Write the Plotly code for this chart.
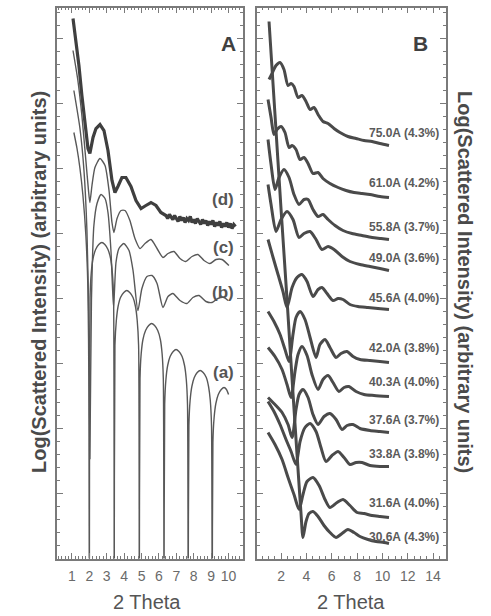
import plotly.graph_objects as go

FONT = "Liberation Sans, Arial, sans-serif"

# ---------------- Panel A (model curves a-d) ----------------
a_x = [1.11, 1.29, 1.46, 1.63, 1.80, 1.92, 1.97, 2.00,
       2.04, 2.11, 2.21, 2.36, 2.54, 2.72, 2.89, 3.07, 3.22, 3.32, 3.39, 3.43,
       3.47, 3.55, 3.65, 3.79, 3.98, 4.15, 4.32, 4.51, 4.65, 4.75, 4.83, 4.87,
       4.91, 4.98, 5.08, 5.23, 5.41, 5.58, 5.75, 5.93, 6.08, 6.18, 6.25, 6.29,
       6.33, 6.40, 6.50, 6.64, 6.82, 6.98, 7.15, 7.33, 7.47, 7.57, 7.64, 7.68,
       7.72, 7.79, 7.89, 8.03, 8.20, 8.37, 8.54, 8.72, 8.85, 8.95, 9.02, 9.06,
       9.10, 9.17, 9.27, 9.41, 9.58, 9.74, 9.88, 10.00]
a_y = [426, 410, 390, 363, 323, 268, 178, -60,
       261, 286, 300, 309, 314, 316, 314, 309, 300, 286, 261, -60,
       213, 238, 252, 261, 266, 268, 266, 261, 252, 238, 213, -60,
       180, 205, 219, 228, 233, 235, 233, 228, 219, 205, 180, -60,
       154, 179, 193, 202, 207, 209, 207, 202, 193, 179, 154, -60,
       133, 158, 172, 181, 186, 188, 186, 181, 172, 158, 133, -60,
       116, 141, 155, 164, 169, 171, 169, 164]

b_x = [1.11, 1.46, 1.69, 1.86, 1.98, 2.03, 2.12, 2.26, 2.44, 2.67, 2.90, 3.07,
       3.24, 3.39, 3.53, 3.70, 3.98, 4.28, 4.51, 4.79, 5.02, 5.31, 5.60, 5.89,
       6.23, 6.52, 6.80, 7.21, 7.61, 7.95, 8.30, 8.70, 9.05, 9.39, 9.74, 9.97]
b_y = [468, 430, 388, 328, 228, 100, 258, 333, 355, 364, 360, 346,
       308, 251, 296, 310, 315, 308, 288, 248, 270, 282, 283, 275,
       251, 262, 265, 258, 255, 261, 263, 257, 256, 260, 261, 258]

c_x = [1.06, 1.34, 1.57, 1.80, 1.95, 2.03, 2.15, 2.32, 2.61, 2.90, 3.13, 3.30,
       3.41, 3.59, 3.82, 4.05, 4.33, 4.62, 4.91, 5.20, 5.54, 5.89, 6.23, 6.52,
       6.86, 7.21, 7.55, 7.90, 8.24, 8.59, 8.93, 9.28, 9.62, 10.02]
c_y = [508, 478, 443, 398, 368, 356, 373, 391, 400, 393, 368, 336,
       326, 340, 348, 348, 338, 320, 310, 315, 319, 310, 301, 305,
       307, 300, 297, 302, 304, 298, 295, 299, 299, 293]

d_x = [1.06, 1.23, 1.40, 1.57, 1.75, 1.92, 2.03, 2.21, 2.38, 2.61, 2.84, 3.07,
       3.30, 3.47, 3.64, 3.87, 4.10, 4.39, 4.68, 4.97, 5.25, 5.54, 5.83, 6.11,
       6.4, 6.5, 6.6, 6.7, 6.8, 6.9, 7.0, 7.1, 7.2, 7.3, 7.4, 7.5, 7.6, 7.7,
       7.8, 7.9, 8.0, 8.1, 8.2, 8.3, 8.4, 8.5, 8.6, 8.7, 8.8, 8.9, 9.0, 9.1,
       9.2, 9.3, 9.4, 9.5, 9.6, 9.7, 9.8, 9.9, 10.0, 10.1, 10.2, 10.3, 10.4]
d_y = [540, 518, 493, 463, 433, 410, 405, 421, 430, 434, 428, 408,
       378, 366, 372, 381, 381, 372, 358, 350, 353, 356, 353, 346,
       343, 340, 344, 341, 339, 343, 340, 337, 342, 338, 341, 336, 340, 338,
       342, 336, 339, 335, 340, 337, 334, 339, 335, 338, 333, 337, 334, 338,
       332, 336, 333, 337, 331, 335, 332, 336, 331, 335, 330, 334, 332]

a_labels = ["(d)", "(c)", "(b)", "(a)"]
a_label_y = [359, 311, 266, 186]

# ---------------- Panel B (measured curves) ----------------
b_names = ["75.0A (4.3%)", "61.0A (4.2%)", "55.8A (3.7%)", "49.0A (3.6%)",
           "45.6A (4.0%)", "42.0A (3.8%)", "40.3A (4.0%)", "37.6A (3.7%)",
           "33.8A (3.8%)", "31.6A (4.0%)", "30.6A (4.3%)"]
b_label_y = [426, 376, 332, 301, 261, 211, 177, 139, 105, 56, 22]

s750_x = [1.05, 1.29, 1.60, 1.92, 2.23, 2.55, 2.79, 3.02, 3.34, 3.65, 3.97, 4.29,
          4.60, 4.92, 5.31, 5.71, 6.18, 6.65, 7.28, 7.92, 8.55, 9.18, 9.81, 10.52]
s750_y = [479, 485, 493, 496, 489, 473, 475, 472, 461, 463, 457, 449,
          451, 444, 437, 435, 430, 426, 422, 420, 418, 417, 415, 413]

s610_x = [0.97, 1.21, 1.44, 1.68, 2.00, 2.31, 2.63, 2.87, 3.18, 3.50, 3.81, 4.13,
          4.52, 4.92, 5.31, 5.86, 6.50, 7.13, 7.76, 8.39, 9.02, 9.81, 10.52]
s610_y = [459, 441, 424, 429, 432, 426, 411, 413, 409, 399, 401, 395,
          385, 386, 380, 375, 371, 368, 366, 365, 364, 362, 361]

s558_x = [0.97, 1.21, 1.52, 1.84, 2.23, 2.63, 3.02, 3.42, 3.81, 4.13, 4.52, 4.92,
          5.31, 5.71, 6.26, 6.89, 7.60, 8.39, 9.18, 9.89, 10.52]
s558_y = [419, 394, 369, 381, 389, 381, 364, 354, 359, 359, 349, 342,
          344, 339, 333, 328, 325, 323, 321, 320, 319]

s490_x = [0.97, 1.21, 1.60, 2.00, 2.47, 2.94, 3.42, 3.81, 4.29, 4.76, 5.23, 5.71,
          6.18, 6.81, 7.44, 8.23, 9.02, 9.81, 10.52]
s490_y = [374, 354, 327, 339, 347, 339, 321, 325, 327, 319, 309, 312,
          309, 302, 297, 294, 292, 290, 288]

s456_x = [0.97, 1.37, 1.76, 2.15, 2.47, 2.87, 3.26, 3.65, 4.05, 4.52, 4.92, 5.23,
          5.63, 6.10, 6.50, 6.89, 7.44, 8.07, 8.86, 9.65, 10.52]
s456_y = [319, 301, 284, 267, 251, 271, 281, 284, 277, 262, 269, 271,
          265, 258, 260, 259, 254, 252, 251, 250, 249]

s420_x = [0.97, 1.44, 1.92, 2.31, 2.63, 2.94, 3.18, 3.50, 3.89, 4.29, 4.76, 5.07,
          5.47, 5.86, 6.34, 6.73, 7.21, 7.68, 8.23, 9.02, 9.81, 10.52]
s420_y = [247, 237, 224, 209, 197, 224, 241, 247, 239, 221, 201, 214,
          219, 211, 201, 205, 207, 202, 199, 198, 197, 196]

s403_x = [0.97, 1.52, 2.08, 2.47, 2.79, 3.10, 3.34, 3.65, 4.05, 4.44, 4.92, 5.31,
          5.71, 6.10, 6.57, 6.97, 7.36, 7.92, 8.55, 9.34, 10.52]
s403_y = [211, 202, 189, 174, 161, 187, 204, 212, 203, 184, 169, 179,
          183, 176, 167, 171, 172, 167, 164, 163, 162]

s376_x = [0.97, 1.52, 2.08, 2.55, 2.87, 3.18, 3.42, 3.73, 4.13, 4.52, 4.92, 5.39,
          5.86, 6.34, 6.81, 7.21, 7.68, 8.23, 9.02, 9.81, 10.52]
s376_y = [161, 154, 146, 134, 121, 149, 164, 169, 161, 144, 134, 142,
          145, 139, 129, 133, 134, 130, 128, 127, 126]

s338_x = [0.97, 1.44, 1.92, 2.39, 2.79, 3.18, 3.50, 3.89, 4.29, 4.76, 5.15, 5.55,
          6.02, 6.50, 6.97, 7.44, 7.92, 8.39, 9.02, 9.81, 10.52]
s338_y = [157, 147, 134, 119, 107, 94, 117, 131, 135, 127, 111, 97,
          103, 107, 101, 94, 96, 96, 93, 92, 92]

s316_x = [0.97, 1.52, 2.08, 2.55, 3.02, 3.42, 3.73, 4.05, 4.52, 5.00, 5.47, 5.86,
          6.42, 6.89, 7.44, 8.00, 8.55, 9.18, 9.81, 10.52]
s316_y = [126, 114, 99, 81, 64, 49, 64, 77, 81, 73, 59, 51,
          56, 59, 53, 46, 45, 43, 42, 41]

s306_x = [1.05, 1.52, 2.00, 2.47, 2.87, 3.26, 3.58, 3.73, 3.97, 4.21, 4.52, 4.92,
          5.39, 5.86, 6.34, 6.81, 7.28, 7.76, 8.23, 8.86, 9.50, 10.13, 10.52]
s306_y = [537, 444, 349, 259, 179, 104, 44, 21, 37, 45, 47, 42,
          33, 26, 21, 25, 29, 26, 22, 19, 17, 16, 15]

b_series = [(s750_x, s750_y), (s610_x, s610_y), (s558_x, s558_y), (s490_x, s490_y),
            (s456_x, s456_y), (s420_x, s420_y), (s403_x, s403_y), (s376_x, s376_y),
            (s338_x, s338_y), (s316_x, s316_y), (s306_x, s306_y)]

# ---------------- Figure ----------------
fig = go.Figure()
thin = dict(color="#585858", width=1.4, shape="spline", smoothing=0.6)
for xs, ys in [(a_x, a_y), (b_x, b_y), (c_x, c_y)]:
    fig.add_trace(go.Scatter(x=xs, y=ys, mode="lines", line=thin,
                             xaxis="x", yaxis="y", showlegend=False))
fig.add_trace(go.Scatter(x=d_x, y=d_y, mode="lines",
                         line=dict(color="#3f3f3f", width=3.2),
                         xaxis="x", yaxis="y", showlegend=False))
for xs, ys in b_series:
    fig.add_trace(go.Scatter(x=xs, y=ys, mode="lines",
                             line=dict(color="#4a4a4a", width=3, shape="spline", smoothing=0.7),
                             xaxis="x2", yaxis="y2", showlegend=False))

H = 616.0
W = 491.0
ydom = [1 - 558.5 / H, 1 - 7.5 / H]
axis_common = dict(showgrid=False, zeroline=False, showline=True, linecolor="#7a7a7a",
                   linewidth=1.5, mirror="ticks", ticks="inside", tickcolor="#7a7a7a",
                   tickwidth=1, ticklen=6)
xfont = dict(family=FONT, size=14, color="#6a6a6a")

fig.update_layout(
    width=491, height=616, margin=dict(l=0, r=0, t=0, b=0),
    paper_bgcolor="white", plot_bgcolor="white",
    font=dict(family=FONT),
    xaxis=dict(domain=[57 / W, 243 / W], range=[0.14, 10.83], anchor="y",
               tickvals=[1, 2, 3, 4, 5, 6, 7, 8, 9, 10], tickfont=xfont,
               minor=dict(dtick=0.2, ticklen=3, ticks="inside", tickcolor="#7a7a7a"),
               ticklabelstandoff=4, **axis_common),
    yaxis=dict(domain=ydom, range=[0, 551], anchor="x", showticklabels=False,
               tick0=0, dtick=65,
               minor=dict(dtick=13, ticklen=3, ticks="inside", tickcolor="#7a7a7a"),
               **axis_common),
    xaxis2=dict(domain=[257 / W, 446 / W], range=[0.1, 15.02], anchor="y2",
                tickvals=[2, 4, 6, 8, 10, 12, 14], tickfont=xfont,
                minor=dict(dtick=0.5, ticklen=3, ticks="inside", tickcolor="#7a7a7a"),
                ticklabelstandoff=4, **axis_common),
    yaxis2=dict(domain=ydom, range=[0, 551], anchor="x2", showticklabels=False,
                tick0=0, dtick=65,
                minor=dict(dtick=13, ticklen=3, ticks="inside", tickcolor="#7a7a7a"),
                **axis_common),
)

ann = []
for t, yv in zip(a_labels, a_label_y):
    ann.append(dict(x=10.45, y=yv, xref="x", yref="y", text="<b>" + t + "</b>",
                    showarrow=False, xanchor="right", yanchor="middle",
                    font=dict(family=FONT, size=17, color="#555555")))
for t, yv in zip(b_names, b_label_y):
    ann.append(dict(x=14.63, y=yv, xref="x2", yref="y2", text="<b>" + t + "</b>",
                    showarrow=False, xanchor="right", yanchor="middle",
                    font=dict(family=FONT, size=12, color="#5a5a5a")))
ann.append(dict(x=228 / W, y=1 - 30 / H, xref="paper", yref="paper", text="<b>A</b>",
                showarrow=False, font=dict(family=FONT, size=21, color="#404040")))
ann.append(dict(x=430 / W, y=1 - 30 / H, xref="paper", yref="paper", text="<b>B</b>",
                showarrow=False, font=dict(family=FONT, size=21, color="#404040")))
for xc in [147 / W, 351 / W]:
    ann.append(dict(x=xc, y=0, xref="paper", yref="paper", text="2 Theta",
                    xanchor="center", yanchor="bottom", yshift=1,
                    showarrow=False, font=dict(family=FONT, size=20, color="#555555")))
title = "<b>Log(Scattered Intensity) (arbitrary units)</b>"
ann.append(dict(x=26 / W, y=1 - 282 / H, xref="paper", yref="paper", text=title,
                textangle=-90, showarrow=False,
                font=dict(family=FONT, size=20, color="#4a4a4a")))
ann.append(dict(x=478 / W, y=1 - 282 / H, xref="paper", yref="paper", text=title,
                textangle=90, showarrow=False,
                font=dict(family=FONT, size=20, color="#4a4a4a")))
fig.update_layout(annotations=ann)

fig.write_html("out.html")
